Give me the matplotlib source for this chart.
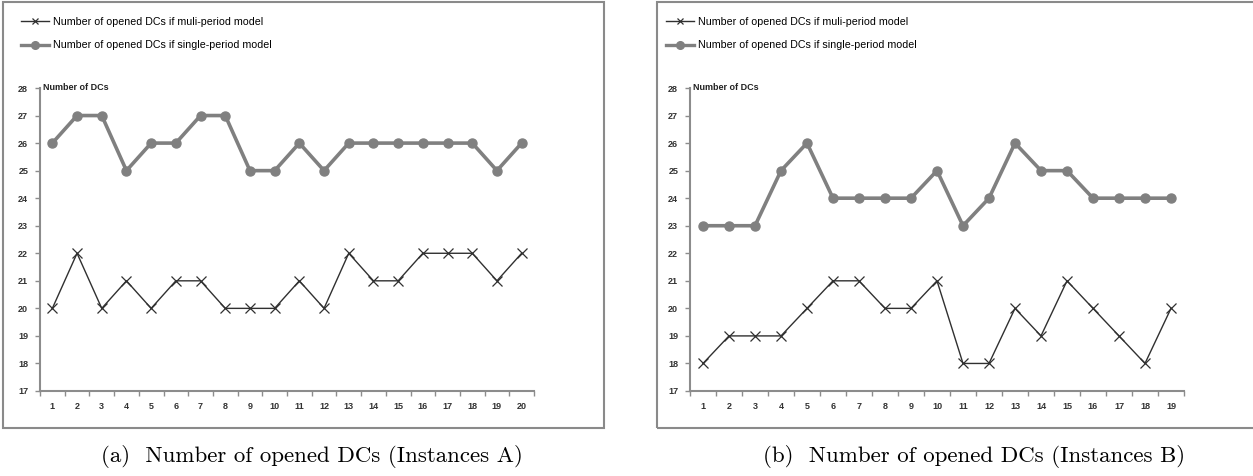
import numpy as np
import matplotlib
matplotlib.use("Agg")
import matplotlib.pyplot as plt
from matplotlib.patches import Rectangle
from matplotlib.lines import Line2D

# data
multi_a = [20, 22, 20, 21, 20, 21, 21, 20, 20, 20, 21, 20, 22, 21, 21, 22, 22, 22, 21, 22]
single_a = [26, 27, 27, 25, 26, 26, 27, 27, 25, 25, 26, 25, 26, 26, 26, 26, 26, 26, 25, 26]
multi_b = [18, 19, 19, 19, 20, 21, 21, 20, 20, 21, 18, 18, 20, 19, 21, 20, 19, 18, 20]
single_b = [23, 23, 23, 25, 26, 24, 24, 24, 24, 25, 23, 24, 26, 25, 25, 24, 24, 24, 24]
y_ticks = list(range(17, 29))
captions = ["(a)  Number of opened DCs (Instances A)", "(b)  Number of opened DCs (Instances B)"]
leg_labels = ["Number of opened DCs if muli-period model",
              "Number of opened DCs if single-period model"]

W, H = 1253, 476
fig = plt.figure(figsize=(W / 100, H / 100), dpi=100)

FONT = "Liberation Sans"
axis_col = "#8c8c8c"
multi_col = "#303030"
single_col = "#808080"


def px(x, y):
    return x / W, 1 - y / H


def panel(box_x0, box_x1, ax_x0, ax_x1, multi, single, caption, cap_x, leg_x):
    # frame of the panel
    fig.patches.append(Rectangle(px(box_x0, 428), (box_x1 - box_x0) / W, 426 / H,
                                 transform=fig.transFigure, fill=False,
                                 edgecolor="#8a8a8a", linewidth=1.5))
    ax = fig.add_axes([ax_x0 / W, 1 - 391 / H, (ax_x1 - ax_x0) / W, 303 / H])
    n = len(multi)
    x = np.arange(1, n + 1)
    ax.plot(x, single, color=single_col, lw=2.6, marker="o", ms=6.5,
            markeredgecolor=single_col)
    ax.plot(x, multi, color=multi_col, lw=1.0, marker="x", ms=7,
            markeredgewidth=0.9)
    ax.set_xlim(0.5, n + 0.5)
    ax.set_ylim(17, 28)
    ax.set_xticks(x)
    ax.set_xticklabels([str(i) for i in x], fontsize=6.5, fontweight="bold",
                       family=FONT, color="#333333")
    ax.set_xticks(np.arange(0.5, n + 1), minor=True)
    ax.tick_params(axis="x", which="major", length=0, pad=8)
    ax.tick_params(axis="x", which="minor", length=3.5, direction="out",
                   color=axis_col, width=1)
    ax.set_yticks(y_ticks)
    ax.set_yticklabels([str(v) for v in y_ticks], fontsize=6.5, fontweight="bold",
                       family=FONT, color="#333333")
    ax.tick_params(axis="y", length=3.5, direction="out", color=axis_col,
                   width=1, pad=5)
    for s in ["top", "right"]:
        ax.spines[s].set_visible(False)
    for s in ["left", "bottom"]:
        ax.spines[s].set_color(axis_col)
        ax.spines[s].set_linewidth(1.5)
    ax.text(0.006, 1.0, "Number of DCs", transform=ax.transAxes, fontsize=6.5,
            fontweight="bold", family=FONT, va="center", ha="left", color="#222222")

    # legend drawn at top of panel
    handles = [Line2D([0], [0], color=multi_col, lw=1.0, marker="x", ms=5,
                      markeredgewidth=0.9),
               Line2D([0], [0], color=single_col, lw=2.4, marker="o", ms=5.5)]
    fig.legend(handles, leg_labels, loc="upper left",
               bbox_to_anchor=px(leg_x, 17), frameon=False,
               prop={"family": FONT, "size": 7.7}, handlelength=2.6,
               handletextpad=0.35, labelspacing=1.25, borderaxespad=0,
               borderpad=0)

    fig.text(cap_x / W, 1 - 456 / H, caption, ha="center", va="center",
             family="cmr10", fontsize=16.5)
    return ax


panel(3, 604, 40, 534, multi_a, single_a, captions[0], 312, 21)
panel(657, 1262, 690, 1184, multi_b, single_b, captions[1], 974, 666)

fig.savefig("out.png", dpi=100)
